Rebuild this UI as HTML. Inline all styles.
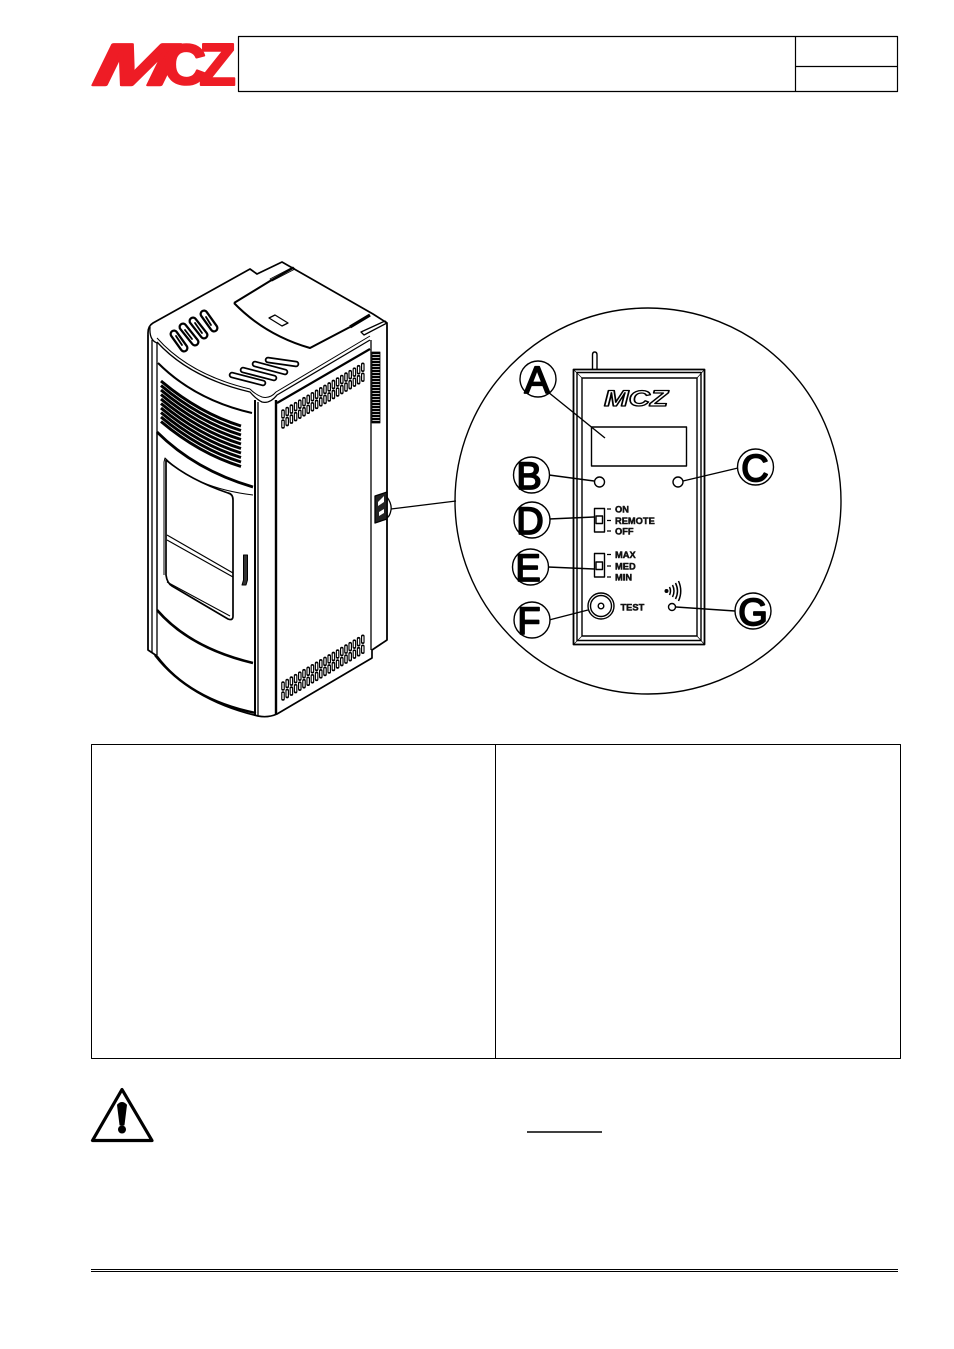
<!DOCTYPE html>
<html><head><meta charset="utf-8"><style>
html,body{margin:0;padding:0;background:#fff}
svg{display:block}
text{font-family:"Liberation Sans",sans-serif}
.l{font-size:38px;fill:#000;stroke:#000;stroke-width:1.7;text-anchor:middle}
.s{font-size:9.3px;font-weight:bold;fill:#111;stroke:#111;stroke-width:.5}
</style></head><body>
<svg width="954" height="1349" viewBox="0 0 954 1349" xmlns="http://www.w3.org/2000/svg" xmlns:xlink="http://www.w3.org/1999/xlink" fill="none" stroke="#000" stroke-linejoin="round">
<defs>
<path id="v" d="M283 0v6m4.200-8.460v6m4.200-8.460v6m4.200-8.460v6m4.200-8.460v6m4.200-8.460v6m4.200-8.460v6m4.200-8.460v6m4.200-8.460v6m4.200-8.460v6m4.200-8.460v6m4.200-8.460v6m4.200-8.460v6m4.200-8.460v6m4.200-8.460v6m4.200-8.460v6m4.200-8.460v6m4.200-8.460v6m4.200-8.460v6m4.200-8.460v6"/>
</defs>
<!-- header -->
<g fill="#ee1c25" stroke="#ee1c25">
<text transform="translate(87 85) skewX(-26)" font-size="59" font-weight="bold" textLength="80" lengthAdjust="spacingAndGlyphs" stroke-width="2.500">M</text>
<text x="164" y="84" font-size="57" font-weight="bold" stroke-width="2.500" textLength="42" lengthAdjust="spacingAndGlyphs">C</text>
<text x="199" y="85" font-size="59" font-weight="bold" stroke-width="2" textLength="37" lengthAdjust="spacingAndGlyphs">Z</text>
</g>
<rect x="238.500" y="36.500" width="659" height="55" stroke-width="1.200"/>
<path d="M795.500 36v56M795 66.500h103" stroke-width="1.200"/>

<!-- stove -->
<g stroke-width="1.300">
<path d="M148 333Q148 326 153 323L250 269L257 274L282 262L373 314L387 323V640L372 650V658L277 714Q268 718 258 716Q190 700 157 656L148 650Z" stroke-width="1.700"/>
<path d="M234 303L270 281M293 268L270 281M350 327L310 348Q265 335 234 303" stroke-width="2"/>
<path d="M270 279l23-12 2 2-23 12z" stroke-width=".8"/>
<path d="M269 318l6-3 13 8-6 3z"/>
<path d="M350 327l20-12" stroke-width="3.200"/>
<path d="M361 332l24-11 2 2-23 12-3-3z"/>
<path d="M157 342Q190 378 250 392Q256 399 262 402Q270 404 277 395L370 340"/>
<path d="M157 338Q190 375 250 389M250 389Q256 395 262 397Q270 399 276 392L370 336" stroke-width="1"/>
<path d="M277 403L370 349" stroke-width="2.200"/>
<path d="M150 327Q149 340 157 343"/>
<path d="M158 363Q195 400 252 413" stroke-width="2"/>
<path d="M148 335V650M152 340V652M157 343V655"/>
<path d="M157 432V610"/>
<path d="M255 400V716" stroke-width="2"/>
<path d="M258 402V716"/>
<path d="M276 400V714" stroke-width="2.400"/>
<path d="M371 340V650M387 325V640"/>
<path d="M157 432Q195 470 253 487" stroke-width="2.800"/>
<path d="M157 610Q190 648 253 663" stroke-width="2.600"/>
<path d="M155 655Q190 700 256 713" stroke-width="2.400"/>
<path d="M164 575V462L165 458Q195 488 253 495" stroke-width="1"/>
<path d="M166 460V575Q167 583 172 586L228 619Q233 621 233 616V500Q233 494 228 493Q190 480 166 460Z" stroke-width="1.700"/>
<path d="M167 535L233 573M167 540L233 577" stroke-width="1.200"/>
<path d="M167 582L230 616" stroke-width="1"/>
<!-- grille -->
<path stroke-width="3" d="M161 381q38 32 80 45M161 385.500q38 32 80 45M161 390q38 32 80 45M161 394.500q38 32 80 45M161 399q38 32 80 45M161 403.500q38 32 80 45M161 408q38 32 80 45M161 412.500q38 32 80 45M161 417q38 32 80 45M161 421.500q38 32 80 45"/>
<!-- handle -->
<path d="M243.500 555h4v25l-1.500 5h-4l1.500-5z" fill="#333" stroke-width="1"/>
<!-- top slots -->
<g stroke-linecap="round">
<path d="M174 334L184 348M183 327L195 342M193 321L204 335M204 314L214 328" stroke-width="9"/>
<path d="M174 334L184 348M183 327L195 342M193 321L204 335M204 314L214 328" stroke-width="4.500" stroke="#fff"/>
<path d="M176 336L182 345M185 330L192 339M195 323L202 333M206 317L211 325" stroke-width="1.800"/>
<path d="M232 375L263 383M243 370L274 378M255 364L285 372M268 360L296 364" stroke-width="6.500"/>
<path d="M232 375L263 383M243 370L274 378M255 364L285 372M268 360L296 364" stroke-width="3" stroke="#fff"/>
</g>
<!-- side vents -->
<g stroke-width="3.600" stroke-linecap="round">
<use xlink:href="#v" href="#v" y="411"/>
<use xlink:href="#v" href="#v" y="421"/>
<use xlink:href="#v" href="#v" y="683"/>
<use xlink:href="#v" href="#v" y="693"/>
</g>
<g stroke-width="1.300" stroke="#fff">
<use xlink:href="#v" href="#v" y="411"/>
<use xlink:href="#v" href="#v" y="421"/>
<use xlink:href="#v" href="#v" y="683"/>
<use xlink:href="#v" href="#v" y="693"/>
</g>
<path d="M372 352h8v71h-8z" fill="#fff" stroke-width=".8"/>
<path d="M376 352V423" style="stroke-width:8" stroke-dasharray="2.200 .8"/>
<!-- connector -->
<path d="M375 496l12-4v27l-12 4z" fill="#222"/>
<path d="M378 502l6-6v6l-6 4zM379 512l5-3v4l-5 3z" fill="#fff" stroke="none"/>
<path d="M387 497Q392 504 391 510Q390 516 387 518"/>
<path d="M391 509L456 501"/>
</g>

<!-- detail -->
<circle cx="648" cy="501" r="193" stroke-width="1.400"/>
<g stroke-width="1.400">
<path d="M592.500 369V355Q592.500 352 594.700 352Q597 352 597 355V369"/>
<rect x="573.500" y="369.500" width="131" height="275" stroke-width="1.800"/>
<rect x="577" y="372.500" width="124" height="268"/>
<rect x="582" y="378" width="115" height="258"/>
<path d="M573.500 369.500L582 378M704.500 369.500L697 378M573.500 644.500L582 636M704.500 644.500L697 636" stroke-width=".7"/>
<rect x="591.500" y="427" width="95" height="39"/>
<circle cx="599.500" cy="482" r="5"/>
<circle cx="678" cy="482" r="5"/>
<rect x="594.500" y="508.500" width="10" height="23.500"/>
<rect x="596" y="516" width="6.500" height="7.500"/>
<rect x="594.500" y="553.500" width="10" height="23.500"/>
<rect x="596" y="562" width="6.500" height="7.500"/>
<path d="M607 509h4M607 520.500h4M607 531h4M607 554.500h4M607 566h4M607 577h4" stroke-width="1.300"/>
<circle cx="601" cy="606" r="13"/>
<circle cx="601" cy="606" r="10.500"/>
<circle cx="601" cy="606" r="2.800"/>
<circle cx="672" cy="607" r="3.500"/>
<circle cx="666.500" cy="591" r="1.300" fill="#000"/>
<path d="M669.500 587Q671.500 591 669.500 595M672.500 585Q675.500 591 672.500 597M675.500 583Q679.500 591 675.500 599M678.500 581Q683 591 678.500 601" stroke-width="1.500"/>
<path d="M548 392L605 438M549 475L594 481M738 468L683 481M549 519L594 517M548 567L594 569M549 620L588 610M676 607L735 611"/>
</g>
<g fill="#fff" stroke-width="1.400">
<circle cx="538" cy="379" r="18"/>
<circle cx="531.500" cy="475" r="18"/>
<circle cx="755.500" cy="467" r="18"/>
<circle cx="532" cy="520" r="18"/>
<circle cx="530.500" cy="567" r="18"/>
<circle cx="532" cy="620" r="18"/>
<circle cx="753" cy="611" r="18"/>
</g>
<text class="l" x="537" y="393">A</text>
<text class="l" x="529" y="489">B</text>
<text class="l" x="755" y="481">C</text>
<text class="l" x="530" y="534">D</text>
<text class="l" x="528" y="581">E</text>
<text class="l" x="529" y="634">F</text>
<text class="l" x="753" y="625">G</text>
<text x="636" y="406" font-size="22" font-weight="bold" font-style="italic" fill="#fff" stroke="#000" stroke-width="1.300" text-anchor="middle" textLength="64" lengthAdjust="spacingAndGlyphs">MCZ</text>
<text class="s" x="615" y="512.500">ON</text>
<text class="s" x="615" y="524">REMOTE</text>
<text class="s" x="615" y="534.500">OFF</text>
<text class="s" x="615" y="558">MAX</text>
<text class="s" x="615" y="569.500">MED</text>
<text class="s" x="615" y="580.500">MIN</text>
<text class="s" x="620.500" y="610.500">TEST</text>

<!-- table -->
<rect x="91.500" y="744.500" width="809" height="314" stroke-width="1"/>
<path d="M495.500 744V1059" stroke-width="1"/>
<!-- warning -->
<path d="M122 1089.500L92.500 1140.500H152Z" stroke-width="3.200"/>
<path d="M117.500 1105Q122 1100 126.500 1105L124 1125H120Z" fill="#000" stroke="#000"/>
<circle cx="122" cy="1129.500" r="4" fill="#000" stroke="none"/>
<path d="M527 1132h75" stroke-width="1.600"/>
<!-- footer -->
<path d="M91 1269.500h807" stroke-width="1"/>
<path d="M91 1271.500h807" stroke-width="1"/>
</svg>
</body></html>
